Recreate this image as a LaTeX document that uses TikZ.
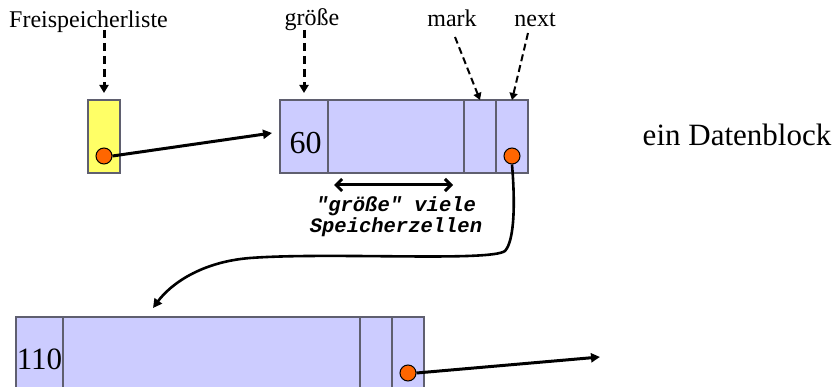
\documentclass[tikz,border=0pt]{standalone}
\usepackage{fontspec}
\setmainfont{Liberation Serif}
\setmonofont{Liberation Mono}
\usetikzlibrary{arrows.meta}
\definecolor{cellfill}{HTML}{CCCCFF}
\definecolor{cellline}{HTML}{5F5F6F}
\definecolor{yfill}{HTML}{FFFF66}
\definecolor{dotfill}{HTML}{FF6600}
\tikzset{
  lbl/.style={inner sep=0, anchor=base, font=\fontsize{24}{26}\selectfont},
  cell/.style={draw=cellline, fill=cellfill, line width=1.5pt, inner sep=0, minimum height=73pt},
  ycell/.style={draw=cellline, fill=yfill, line width=1.5pt, inner sep=0, minimum height=73pt, minimum width=32pt},
  dot/.style={circle, draw=black, fill=dotfill, line width=1pt, inner sep=0, minimum size=16pt},
  bigdash/.style={line width=3pt, dash pattern=on 8pt off 5pt, -{Triangle[length=8pt,width=9pt]}},
  smalldash/.style={line width=2pt, dash pattern=on 7pt off 4pt, -{Triangle[length=7pt,width=8pt]}},
  ptr/.style={line width=3pt, -{Triangle[length=9pt,width=9pt]}},
  num/.style={inner sep=0, anchor=base, font=\fontsize{32}{34}\selectfont},
}
\begin{document}
\begin{tikzpicture}[x=1pt,y=-1pt]
\useasboundingbox (0,0) rectangle (836,387);
\clip (0,0) rectangle (836,387);
% labels
\node[lbl] (fsl) at (88.5,28) {Freispeicherliste};
\node[lbl] (gr) at (312,26) {größe};
\node[lbl] (mk) at (452,27) {mark};
\node[lbl] (nx) at (535,27) {next};
% yellow list head
\node[ycell] (yb) at (104,136.5) {};
\node[dot] (yd) at (104,156) {};
% block 1
\node[cell, minimum width=48pt] (b1a) at (304,136.5) {};
\node[cell, minimum width=136pt] (b1b) at (396,136.5) {};
\node[cell, minimum width=32pt] (b1c) at (480,136.5) {};
\node[cell, minimum width=32pt] (b1d) at (512,136.5) {};
\node[num] (n60) at (305.5,154) {60};
\node[dot] (b1dot) at (512,156) {};
% block 2
\node[cell, minimum width=47pt] (b2a) at (39.5,353.5) {};
\node[cell, minimum width=297pt] (b2b) at (211.5,353.5) {};
\node[cell, minimum width=32pt] (b2c) at (376,353.5) {};
\node[cell, minimum width=32pt] (b2d) at (408,353.5) {};
\node[num, font=\fontsize{31}{33}\selectfont] (n110) at (39.5,370) {110};
\node[dot] (b2dot) at (408,373) {};
% right label
\node[inner sep=0, anchor=base, font=\fontsize{31}{33}\selectfont] (edb) at (737,146) {ein Datenblock};
% size annotation
\node[inner sep=0, align=center, font=\fontsize{20.5}{21}\selectfont\ttfamily\bfseries\itshape] (sz) at (396,217) {"größe" viele\\Speicherzellen};
\coordinate (dl) at (334,185);
\coordinate (dr) at (453,185);
\draw[line width=3pt, {Straight Barb[length=6pt,width=12pt]}-{Straight Barb[length=6pt,width=12pt]}] (dl) -- (dr);
% dashed pointers
\coordinate (fslend) at (104,93);
\coordinate (grend) at (304,93);
\coordinate (fslstart) at (104,30);
\coordinate (grstart) at (304,30);
\coordinate (mkstart) at (455,37);
\coordinate (mkend) at (480,100);
\coordinate (nxstart) at (528,33);
\coordinate (nxend) at (512,100);
\draw[bigdash] (fslstart) -- (fslend);
\draw[bigdash] (grstart) -- (grend);
\draw[smalldash] (mkstart) -- (mkend);
\draw[smalldash] (nxstart) -- (nxend);
% pointers
\coordinate (t1) at (272,133);
\coordinate (t2) at (153,308);
\coordinate (t3) at (600,357);
\draw[ptr] (yd.east) -- (t1);
\draw[ptr, line width=2.6pt] (b1dot.south) .. controls (515,200) and (515,240) .. (505,251)
  .. controls (490,262) and (330,252) .. (250,258)
  .. controls (200,262) and (170,285) .. (t2);
\draw[ptr] (b2dot.east) -- (t3);
\end{tikzpicture}
\end{document}
